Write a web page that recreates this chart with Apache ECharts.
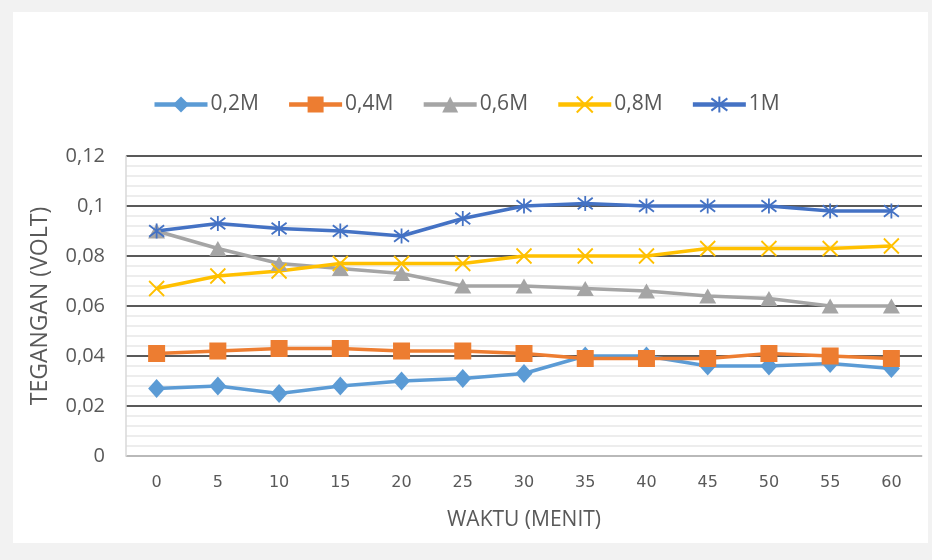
<!DOCTYPE html>
<html>
<head>
<meta charset="utf-8">
<script src="https://cdn.jsdelivr.net/npm/echarts@6/dist/echarts.min.js"></script>
<style>
  html, body { margin: 0; padding: 0; background: #f2f2f2; }
  #chart { width: 932px; height: 560px; }
</style>
</head>
<body>
<div id="chart"></div>
<script>
// Time in minutes (x axis categories)
const waktu = ['0', '5', '10', '15', '20', '25', '30', '35', '40', '45', '50', '55', '60'];

// Voltage readings (volt) per concentration
const v02M = [0.027, 0.028, 0.025, 0.028, 0.030, 0.031, 0.033, 0.040, 0.040, 0.036, 0.036, 0.037, 0.035];
const v04M = [0.041, 0.042, 0.043, 0.043, 0.042, 0.042, 0.041, 0.039, 0.039, 0.039, 0.041, 0.040, 0.039];
const v06M = [0.090, 0.083, 0.077, 0.075, 0.073, 0.068, 0.068, 0.067, 0.066, 0.064, 0.063, 0.060, 0.060];
const v08M = [0.067, 0.072, 0.074, 0.077, 0.077, 0.077, 0.080, 0.080, 0.080, 0.083, 0.083, 0.083, 0.084];
const v1M  = [0.090, 0.093, 0.091, 0.090, 0.088, 0.095, 0.100, 0.101, 0.100, 0.100, 0.100, 0.098, 0.098];

const seriesNames = ['0,2M', '0,4M', '0,6M', '0,8M', '1M'];

const FONT = '"Open Sans", sans-serif';
const TEXT = '#595959';

const crossPath = 'path://M0,0L10,10M10,0L0,10';
const starPath = 'path://M0,0L10,10M10,0L0,10M5,-1.5L5,11.5';

function makeSeries(name, data, color, symbol, size, stroked) {
  return {
    name: name,
    type: 'line',
    data: data,
    symbol: symbol,
    symbolSize: size,
    lineStyle: { color: color, width: 3.5 },
    itemStyle: stroked
      ? { color: color, borderColor: color, borderWidth: 1.8 }
      : { color: color },
    emphasis: { disabled: true },
    animation: false
  };
}

const chart = echarts.init(document.getElementById('chart'), null, { renderer: 'canvas' });

chart.setOption({
  backgroundColor: '#f2f2f2',
  graphic: [{
    type: 'rect',
    z: -10,
    silent: true,
    shape: { x: 13, y: 12, width: 915, height: 531 },
    style: { fill: '#ffffff' }
  }],
  legend: {
    top: 89,
    left: 'center',
    itemWidth: 53,
    itemHeight: 20,
    itemGap: 28,
    lineStyle: { width: 4.5 },
    textStyle: { fontFamily: FONT, fontSize: 21, color: TEXT, padding: [0, 0, 0, -2] },
    data: seriesNames
  },
  grid: { left: 126, right: 10, top: 156, bottom: 104, containLabel: false },
  xAxis: {
    type: 'category',
    data: waktu,
    boundaryGap: true,
    name: 'WAKTU (MENIT)',
    nameLocation: 'middle',
    nameGap: 54,
    nameTextStyle: { fontFamily: FONT, fontSize: 21, color: TEXT },
    axisLine: { show: true, lineStyle: { color: '#d9d9d9', width: 1.5 } },
    axisTick: { show: false },
    axisLabel: { fontFamily: '"DejaVu Sans", sans-serif', fontSize: 16, color: TEXT, margin: 19 }
  },
  yAxis: {
    type: 'value',
    min: 0,
    max: 0.12,
    interval: 0.02,
    name: 'TEGANGAN (VOLT)',
    nameLocation: 'middle',
    nameGap: 74,
    nameRotate: 90,
    nameTextStyle: { fontFamily: FONT, fontSize: 23, color: TEXT },
    axisLine: { show: true, lineStyle: { color: '#d9d9d9', width: 1.5 } },
    axisTick: { show: false },
    axisLabel: {
      fontFamily: FONT, fontSize: 20, color: TEXT, margin: 21,
      formatter: function (v) { return String(Math.round(v * 100) / 100).replace('.', ','); }
    },
    splitLine: { show: true, lineStyle: { color: '#595959', width: 2 } },
    minorTick: { show: false, splitNumber: 5 },
    minorSplitLine: { show: true, lineStyle: { color: '#e8e8e8', width: 1.5 } }
  },
  series: [
    makeSeries(seriesNames[0], v02M, '#5b9bd5', 'diamond', [17, 19], false),
    makeSeries(seriesNames[1], v04M, '#ed7d31', 'rect', 17, false),
    makeSeries(seriesNames[2], v06M, '#a5a5a5', 'triangle', [17, 15], false),
    makeSeries(seriesNames[3], v08M, '#ffc000', crossPath, 15, true),
    makeSeries(seriesNames[4], v1M, '#4472c4', starPath, 15, true)
  ]
});
</script>
</body>
</html>
